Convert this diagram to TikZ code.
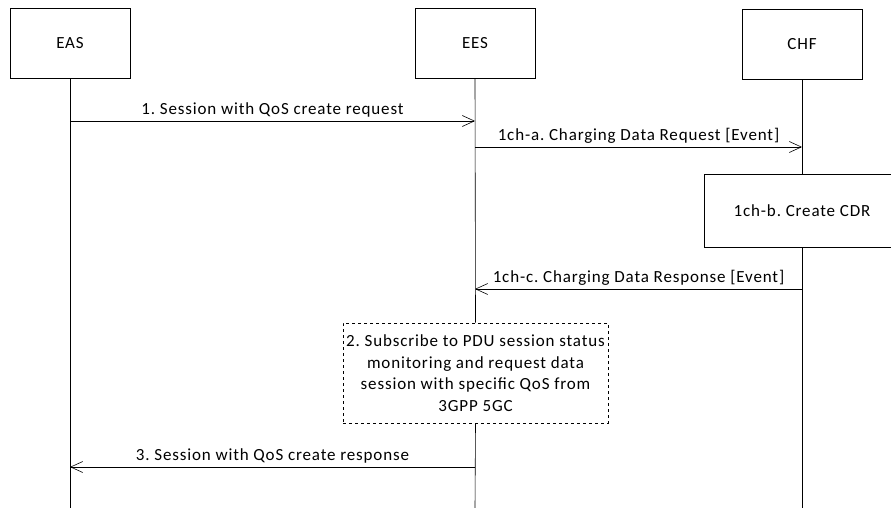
\documentclass[tikz,border=0pt]{standalone}
\usepackage{fontspec}
\setmainfont{Carlito}[LetterSpace=5]
\usetikzlibrary{arrows.meta}
\frenchspacing

\begin{document}
\begin{tikzpicture}[x=1pt,y=-1pt,>={Straight Barb[length=12pt,width=11pt]},
    font=\fontsize{17}{21.5}\selectfont,line width=0.6pt,
    entity/.style={draw,minimum width=120pt,minimum height=70pt,inner sep=0pt},
    msg/.style={->},
    lbl/.style={midway,above=0pt}]
        \useasboundingbox (0,0) rectangle (891,508);
        \node[entity] (eas) at (70,43) {EAS};
        \node[entity] (ees) at (475,43) {EES};
        \node[entity] (chf) at (802,44) {CHF};
        \node[draw,fill=white,minimum width=196pt,minimum height=73pt] (cdr) at (802,210.5) {1ch-b. Create CDR};
        \node[draw,dashed,align=center,minimum width=265pt,minimum height=100pt,inner sep=0pt] (sub) at (475.5,373)
            {2. Subscribe to PDU session status\\monitoring and request data\\session with specific QoS from\\3GPP 5GC};
        \coordinate (easend) at (70,508);
        \coordinate (eesend) at (475,508);
        \coordinate (chfend) at (802,508);
        \draw (eas.south) -- (easend);
        \draw (ees.south) -- (sub.north);
        \draw (sub.south) -- (eesend);
        \draw (chf.south) -- (cdr.north);
        \draw (cdr.south) -- (chfend);
        \coordinate (eas1) at (70,121);
        \coordinate (ees1) at (475,121);
        \coordinate (ees2) at (475,147);
        \coordinate (chf2) at (802,147);
        \coordinate (chf3) at (802,289);
        \coordinate (ees3) at (475,289);
        \coordinate (ees4) at (475,467);
        \coordinate (eas4) at (70,467);
        \draw[msg] (eas1) -- (ees1) node[lbl] {1. Session with QoS create request};
        \draw[msg] (ees2) -- (chf2) node[lbl] {1ch-a. Charging Data Request [Event]};
        \draw[msg] (chf3) -- (ees3) node[lbl] {1ch-c. Charging Data Response [Event]};
        \draw[msg] (ees4) -- (eas4) node[lbl] {3. Session with QoS create response};
      \end{tikzpicture}
\end{document}
